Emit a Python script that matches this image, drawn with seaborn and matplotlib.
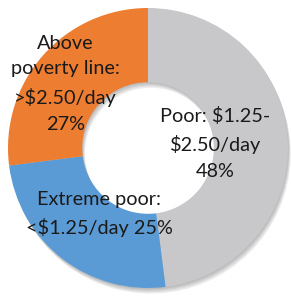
import matplotlib
matplotlib.use("Agg")
import matplotlib.pyplot as plt
import seaborn as sns

sns.set_theme(style="white")
plt.rcParams['font.family'] = ['Lato', 'DejaVu Sans']

categories = ["Poor: $1.25-\n$2.50/day", "Extreme poor:\n<$1.25/day", "Above\npoverty line:\n>$2.50/day"]
values = [48, 25, 27]
colors = ["#c8c8ca", "#5b9bd5", "#ed7d31"]
label_texts = ["Poor: $1.25-\n$2.50/day\n48%", "Extreme poor:\n<$1.25/day 25%", "Above\npoverty line:\n>$2.50/day\n27%"]
label_pos = [(0.48, 0.03), (-0.35, -0.47), (-0.59, 0.46)]

W, H = 291, 298
fig = plt.figure(figsize=(W / 100, H / 100), dpi=100)
ax = fig.add_axes([0, 0, 1, 1])

# soft shadow (several offset rings with low alpha)
for i, (dx, dy) in enumerate([(0.005, -0.01), (0.01, -0.02), (0.015, -0.03), (0.02, -0.04)]):
    ax.pie(values, radius=1.0, startangle=90, counterclock=False,
           colors=["#000000"] * 3, center=(dx, dy),
           wedgeprops=dict(width=0.53, linewidth=0, alpha=0.07))
ax.pie(values, radius=1.0, startangle=90, counterclock=False,
       colors=colors, wedgeprops=dict(width=0.53, linewidth=0))

for t, (x, y) in zip(label_texts, label_pos):
    ax.text(x, y, t, ha="center", va="center", fontsize=14.3,
            color="#1a1a1a", linespacing=1.64)

cx, cy, r = 148, 150, 140
ax.set_aspect("auto")
ax.set_xlim(-cx / r, (W - cx) / r)
ax.set_ylim(-cy / r, (H - cy) / r)
ax.axis("off")
fig.savefig("out.png", dpi=100)
